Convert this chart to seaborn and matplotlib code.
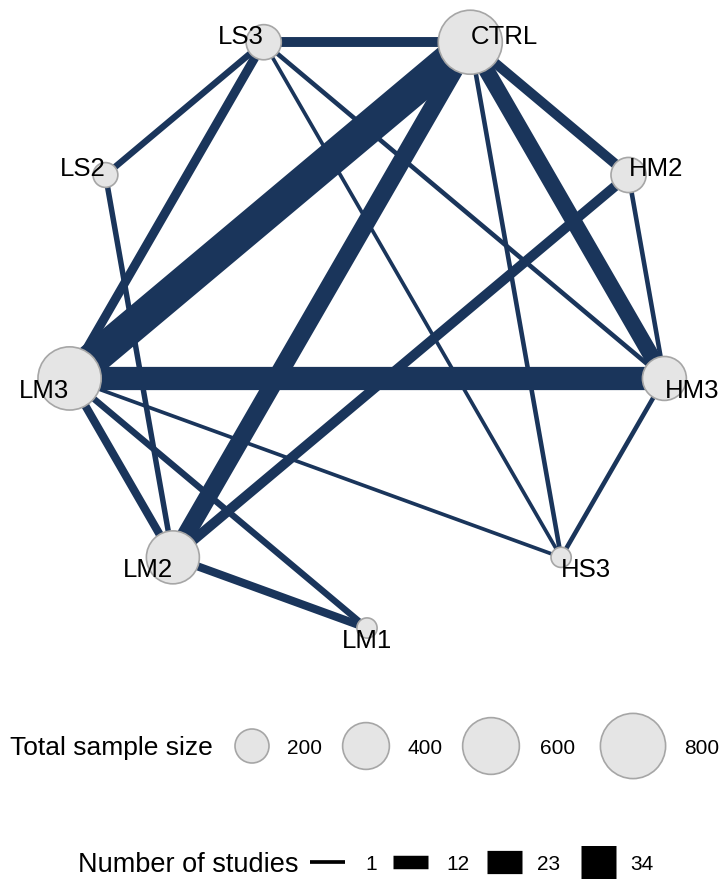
import numpy as np
import pandas as pd
import matplotlib
matplotlib.use("Agg")
import matplotlib.pyplot as plt
import seaborn as sns

# ---- data -------------------------------------------------------------
treatments = ["CTRL", "HM2", "HM3", "HS3", "LM1", "LM2", "LM3", "LS2", "LS3"]
sample_size = [770, 215, 350, 55, 55, 520, 750, 95, 215]

edge_from = ["LS3", "LS3", "LS3", "LS3", "LS3", "LS2", "CTRL", "CTRL", "CTRL",
             "CTRL", "CTRL", "HM2", "HM2", "LM3", "LM3", "LM3", "LM3", "LM2", "HM3"]
edge_to = ["CTRL", "LS2", "LM3", "HM3", "HS3", "LM2", "LM3", "LM2", "HM2",
           "HM3", "HS3", "HM3", "LM2", "HM3", "HS3", "LM2", "LM1", "LM1", "HS3"]
n_studies = [8, 4, 7, 2, 1, 3, 34, 17, 8, 15, 2, 2, 8, 23, 1, 6, 4, 6, 2]

legend_sizes = [200, 400, 600, 800]
legend_studies = [1, 12, 23, 34]

# ---- style ------------------------------------------------------------
EDGE = "#1a355b"
NODE = "#e5e5e5"
NODE_EDGE = "#a6a6a6"

sns.set_theme(style="white")
plt.rcParams["font.family"] = ["Liberation Sans", "DejaVu Sans"]
plt.rcParams["lines.solid_capstyle"] = "butt"

# node area grows linearly with sample size; line width linearly with studies
SIZE_NORM = (0, 800)
SIZES = (64.3, 2204.0)
WIDTH_NORM = (1, 34)
WIDTHS = (2.66, 23.76)

fig = plt.figure(figsize=(7.25, 8.8), dpi=100)
ax = fig.add_axes([0, 0, 1, 1])

# circular layout, clockwise from CTRL
cx, cy, R = 367, 326, 302
ang = np.deg2rad(70 - 40 * np.arange(len(treatments)))
nodes = pd.DataFrame({
    "treatment": treatments,
    "x": cx + R * np.cos(ang),
    "y": cy - R * np.sin(ang),
    "n": sample_size,
}).set_index("treatment")

rows = []
for i, (a, b, k) in enumerate(zip(edge_from, edge_to, n_studies)):
    for t in (a, b):
        rows.append({"edge": i, "x": nodes.at[t, "x"], "y": nodes.at[t, "y"], "studies": k})
edges = pd.DataFrame(rows)

sns.lineplot(data=edges, x="x", y="y", units="edge", size="studies",
             sizes=WIDTHS, size_norm=WIDTH_NORM, estimator=None, sort=False,
             color=EDGE, legend=False, ax=ax)

sns.scatterplot(data=nodes.reset_index(), x="x", y="y", size="n",
                sizes=SIZES, size_norm=SIZE_NORM, color=NODE,
                edgecolor=NODE_EDGE, linewidth=1.2, legend=False, ax=ax, zorder=3)

# node labels, pushed outward from the ring
for t, r in nodes.iterrows():
    dx = r["x"] - cx
    if abs(dx) < 20:
        ha = "center"
    elif dx > 0:
        ha = "left"
    else:
        ha = "right"
    upper = r["y"] < cy - 60
    ty = r["y"] + (1.5 if upper else 19.5)
    ax.text(r["x"], ty, t, ha=ha, va="baseline", fontsize=18.5,
            color="black", zorder=4)

# ---- sample size legend -------------------------------------------------
leg_y = 746
ax.text(10, leg_y + 9.5, "Total sample size", ha="left", va="baseline",
        fontsize=19, color="black")
circ_x = [252, 366, 491, 633]
lab_x = [287, 408, 540, 684]
sns.scatterplot(x=circ_x, y=[leg_y] * 4, size=legend_sizes, sizes=SIZES,
                size_norm=SIZE_NORM, color=NODE, edgecolor=NODE_EDGE,
                linewidth=1.2, legend=False, ax=ax, zorder=3)
for v, x in zip(legend_sizes, lab_x):
    ax.text(x, leg_y + 7.5, str(v), ha="left", va="baseline", fontsize=15,
            color="black")

# ---- number of studies legend -------------------------------------------
st_y = 862
ax.text(78, st_y + 9.5, "Number of studies", ha="left", va="baseline",
        fontsize=19.5, color="black")
seg_x = [310, 393, 487, 581]
num_x = [365, 446, 537, 630]
seg_rows = []
for v, x in zip(legend_studies, seg_x):
    seg_rows += [{"k": v, "x": x, "y": st_y, "studies": v},
                 {"k": v, "x": x + 35, "y": st_y, "studies": v}]
seg = pd.DataFrame(seg_rows)
sns.lineplot(data=seg, x="x", y="y", units="k", size="studies", sizes=WIDTHS,
             size_norm=WIDTH_NORM, estimator=None, sort=False, color="black",
             legend=False, ax=ax)
for v, x in zip(legend_studies, num_x):
    ax.text(x, st_y + 7.5, str(v), ha="left", va="baseline", fontsize=15,
            color="black")

ax.set_xlim(0, 725)
ax.set_ylim(880, 0)
ax.axis("off")
fig.savefig("out.png", dpi=100)
